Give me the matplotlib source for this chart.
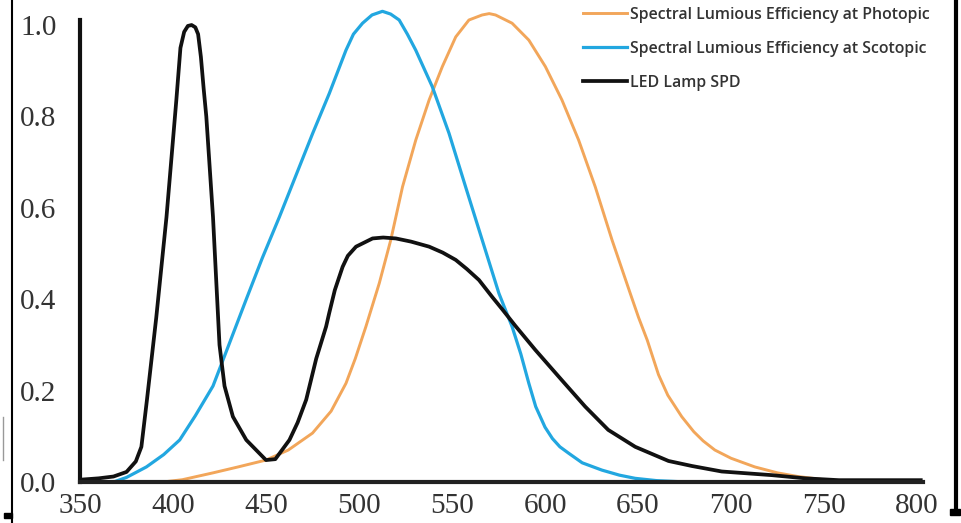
import matplotlib
matplotlib.use("Agg")
from matplotlib import pyplot as plt
from matplotlib.lines import Line2D
from matplotlib.patches import Rectangle

# values (wavelength in nm, relative value)
photopic_nm = [394.5, 405, 421.5, 435, 450, 462, 475, 485, 493, 498, 503.7, 510.9, 517.1,
               523.4, 530.5, 537.7, 544.8, 552, 559.1, 566.2, 570, 573.4, 582.3, 591.3,
               600.2, 609.1, 618.1, 627, 636, 645.8, 650.3, 655, 661, 666, 673.5, 680, 685,
               691.3, 700, 712.8, 725, 736, 750, 761]
photopic_val = [0.0, 0.005, 0.02, 0.033, 0.048, 0.07, 0.107, 0.155, 0.216, 0.27, 0.34, 0.435, 0.53,
                0.646, 0.748, 0.836, 0.909, 0.974, 1.011, 1.022, 1.025, 1.022, 1.004, 0.967,
                0.909, 0.836, 0.748, 0.646, 0.53, 0.413, 0.36, 0.31, 0.235, 0.19, 0.143, 0.11, 0.09,
                0.07, 0.052, 0.033, 0.02, 0.012, 0.005, 0.0]

scotopic_nm = [368, 375, 385.7, 395, 403.6, 412, 421.5, 430, 439.4, 448, 457.2, 466, 475.1,
               484, 493, 497, 501.9, 507, 512.6, 517, 521.6, 526, 530.5, 539.4, 548.4, 557.3,
               566.2, 575.2, 582.3, 587, 591.3, 595, 600, 604, 608, 612.7, 620, 630.6, 640,
               648.5, 660, 676]
scotopic_val = [0.0, 0.01, 0.033, 0.06, 0.092, 0.145, 0.21, 0.30, 0.40, 0.49, 0.58, 0.67, 0.763,
                0.85, 0.945, 0.98, 1.004, 1.022, 1.03, 1.024, 1.011, 0.98, 0.945, 0.865, 0.763, 0.646,
                0.53, 0.413, 0.34, 0.28, 0.216, 0.165, 0.12, 0.095, 0.077, 0.063, 0.042, 0.026, 0.015,
                0.008, 0.003, 0.0]

led_nm = [350, 360, 368, 375, 380, 383, 386, 391, 396.5, 401.8, 404, 406, 408, 410, 412, 413.5,
          415, 416.5, 417.9, 421.5, 425, 427.7, 432.2, 439.4, 450, 455, 462.6, 467, 471.6, 477,
          482.3, 484, 487, 491.2, 494, 498.4, 507.3, 513, 519.8, 528, 537.7, 545, 552, 558,
          564.5, 571.6, 577, 584, 594.8, 609, 621.6, 634, 648.5, 666.4, 679, 695, 722, 740,
          758, 802]
led_val = [0.005, 0.008, 0.012, 0.022, 0.045, 0.077, 0.18, 0.36, 0.58, 0.836, 0.95, 0.985, 0.998, 1.0,
           0.995, 0.98, 0.93, 0.86, 0.80, 0.58, 0.30, 0.21, 0.143, 0.092, 0.048, 0.05, 0.092, 0.13,
           0.18, 0.27, 0.34, 0.37, 0.42, 0.471, 0.495, 0.515, 0.533, 0.535, 0.533, 0.526, 0.515,
           0.502, 0.486, 0.466, 0.442, 0.405, 0.378, 0.342, 0.289, 0.223, 0.165, 0.114, 0.077,
           0.046, 0.035, 0.023, 0.015, 0.008, 0.004, 0.004]

labels = ["Spectral Lumious Efficiency at Photopic",
          "Spectral Lumious Efficiency at Scotopic",
          "LED Lamp SPD"]
x_ticks = [350, 400, 450, 500, 550, 600, 650, 700, 750, 800]
y_ticks = [0.0, 0.2, 0.4, 0.6, 0.8, 1.0]

W, H = 961, 523
fig = plt.figure(figsize=(W / 100, H / 100), dpi=100)
ax = fig.add_axes([80 / W, 41 / H, (922.6 - 80) / W, 462 / H])

l1, = ax.plot(photopic_nm, photopic_val, color="#F2A65A", lw=2.1, clip_on=False,
              solid_joinstyle="round")
l2, = ax.plot(scotopic_nm, scotopic_val, color="#22A7E0", lw=2.3, clip_on=False,
              solid_joinstyle="round")
l3, = ax.plot(led_nm, led_val, color="#111111", lw=2.7, clip_on=False, solid_joinstyle="round")

ax.set_xlim(350, 803)
ax.set_ylim(0, 1.011)
for s in ["top", "right"]:
    ax.spines[s].set_visible(False)
ax.spines["left"].set_linewidth(3)
ax.spines["bottom"].set_linewidth(3)
ax.spines["left"].set_color("#111111")
ax.spines["bottom"].set_color("#222222")

ax.set_xticks(x_ticks)
ax.set_xticklabels([str(v) for v in x_ticks])
ax.set_yticks(y_ticks)
ax.set_yticklabels(["%.1f" % v for v in y_ticks])
ax.tick_params(axis="both", length=0, labelsize=21, labelcolor="#333333")
ax.tick_params(axis="y", pad=17)
ax.tick_params(axis="x", pad=8)
for lab in ax.get_xticklabels() + ax.get_yticklabels():
    lab.set_family("Liberation Serif")

leg = ax.legend([l1, l2, l3], labels, loc="upper left",
                bbox_to_anchor=(583 / W, 1 - 7 / H), bbox_transform=fig.transFigure,
                frameon=False, handlelength=2.8, handletextpad=0.15, labelspacing=1.13,
                borderpad=0, borderaxespad=0,
                prop={"family": "Open Sans", "weight": "semibold", "size": 11.4})
for t in leg.get_texts():
    t.set_color("#333333")

# screenshot border bits
fig.add_artist(Line2D([11.5 / W, 11.5 / W], [0, 1], transform=fig.transFigure, color="k", lw=1.5))
fig.add_artist(Line2D([956 / W, 956 / W], [(H - 513) / H, 1], transform=fig.transFigure, color="k", lw=3))
fig.add_artist(Line2D([3 / W, 3 / W], [(H - 460) / H, (H - 417) / H], transform=fig.transFigure, color="#999999", lw=1))
fig.add_artist(Rectangle((4 / W, (H - 518) / H), 8 / W, 5 / H, transform=fig.transFigure, color="k"))
fig.add_artist(Rectangle((950 / W, (H - 515) / H), 10 / W, 6 / H, transform=fig.transFigure, color="k"))

fig.savefig("out.png", dpi=100)
